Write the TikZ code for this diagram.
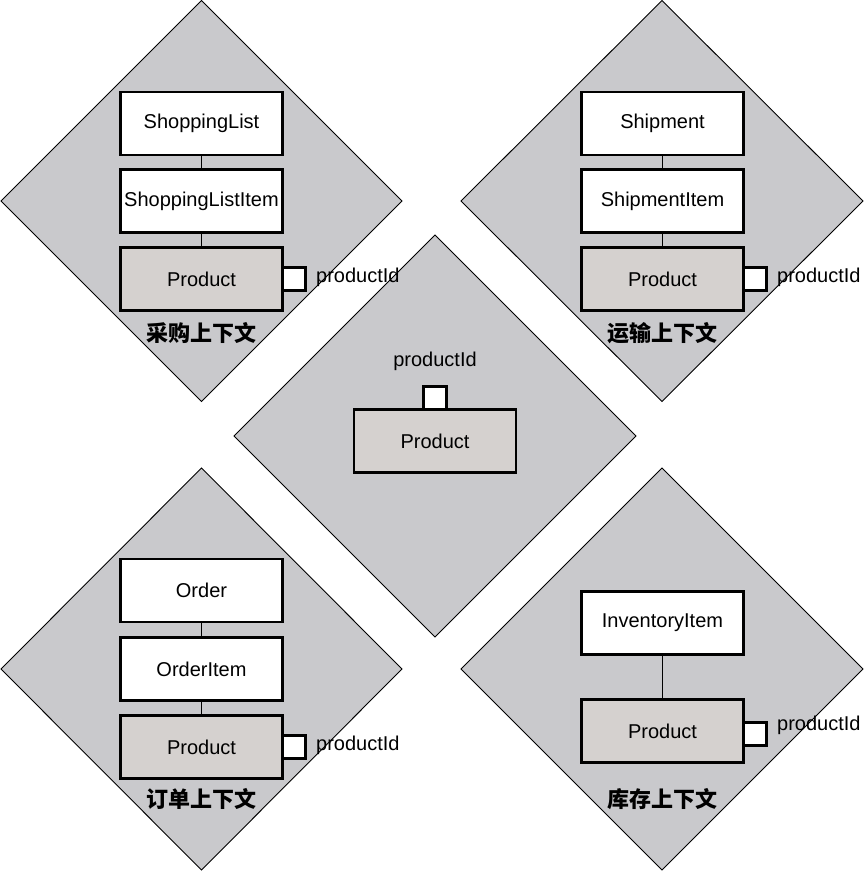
\documentclass[tikz,border=0pt]{standalone}
\usepackage{fontspec}
\setmainfont{Liberation Sans}
\newfontfamily\cjk{Noto Sans CJK SC}
\usetikzlibrary{positioning}
\definecolor{diafill}{RGB}{201,201,204}
\definecolor{prodfill}{RGB}{213,209,207}
\begin{document}
\begin{tikzpicture}[x=1pt,y=-1pt,
  every node/.style={font=\fontsize{20}{22}\selectfont},
  dia/.style={draw=black,fill=diafill,line width=0.9pt,line join=miter},
  entity/.style={draw=black,fill=white,line width=2.8pt,rectangle,minimum width=162pt,minimum height=63pt,inner sep=0pt,outer sep=0pt},
  prod/.style={entity,fill=prodfill},
  port/.style={draw=black,fill=white,line width=2.8pt,rectangle,minimum width=23pt,minimum height=23pt,inner sep=0pt,outer sep=0pt},
  link/.style={draw=black,line width=0.9pt},
  ctx/.style={font=\cjk\bfseries\fontsize{22}{24}\selectfont},
  pid/.style={inner sep=0pt}
]
\useasboundingbox (0,0) rectangle (864,871);
% diamonds
\draw[dia] (201.5,0.5) -- (402,201) -- (201.5,401.5) -- (1,201) -- cycle;
\draw[dia] (662,0.5) -- (863,201) -- (662,401.5) -- (461,201) -- cycle;
\draw[dia] (435,235) -- (636,436) -- (435,637) -- (234,436) -- cycle;
\draw[dia] (201.5,468) -- (402,669) -- (201.5,870) -- (1,669) -- cycle;
\draw[dia] (662,468) -- (863,669) -- (662,870) -- (461,669) -- cycle;

% top-left: purchasing context
\node[entity] (sl) at (201.5,123.5) {ShoppingList};
\node[entity] (sli) at (201.5,201) {ShoppingListItem};
\node[prod] (p1) at (201.5,279) {Product};
\draw[link] (sl) -- (sli);
\draw[link] (sli) -- (p1);
\node[port,anchor=west] (q1) at (p1.east) {};
\node[pid,anchor=base west] (l1) at (316,282) {productId};
\node[ctx] (c1) at (201.5,333) {采购上下文};

% top-right: shipping context
\node[entity] (sh) at (662.5,123.5) {Shipment};
\node[entity] (shi) at (662.5,201) {ShipmentItem};
\node[prod] (p2) at (662.5,279) {Product};
\draw[link] (sh) -- (shi);
\draw[link] (shi) -- (p2);
\node[port,anchor=west] (q2) at (p2.east) {};
\node[pid,anchor=base west] (l2) at (777,282) {productId};
\node[ctx] (c2) at (662.5,333) {运输上下文};

% center: product
\node[prod] (p0) at (435,441) {Product};
\node[port,anchor=south] (q0) at (p0.north) {};
\node[pid,anchor=base] (l0) at (435,366) {productId};

% bottom-left: order context
\node[entity] (or) at (201.5,590.5) {Order};
\node[entity] (ori) at (201.5,669) {OrderItem};
\node[prod] (p3) at (201.5,747) {Product};
\draw[link] (or) -- (ori);
\draw[link] (ori) -- (p3);
\node[port,anchor=west] (q3) at (p3.east) {};
\node[pid,anchor=base west] (l3) at (316,750) {productId};
\node[ctx] (c3) at (201.5,799) {订单上下文};

% bottom-right: inventory context
\node[entity] (inv) at (662.5,623) {InventoryItem};
\node[prod] (p4) at (662.5,731) {Product};
\draw[link] (inv) -- (p4);
\node[port,anchor=west] (q4) at ([yshift=-3pt]p4.east) {};
\node[pid,anchor=base west] (l4) at (777,730) {productId};
\node[ctx] (c4) at (662.5,799) {库存上下文};
\end{tikzpicture}
\end{document}
